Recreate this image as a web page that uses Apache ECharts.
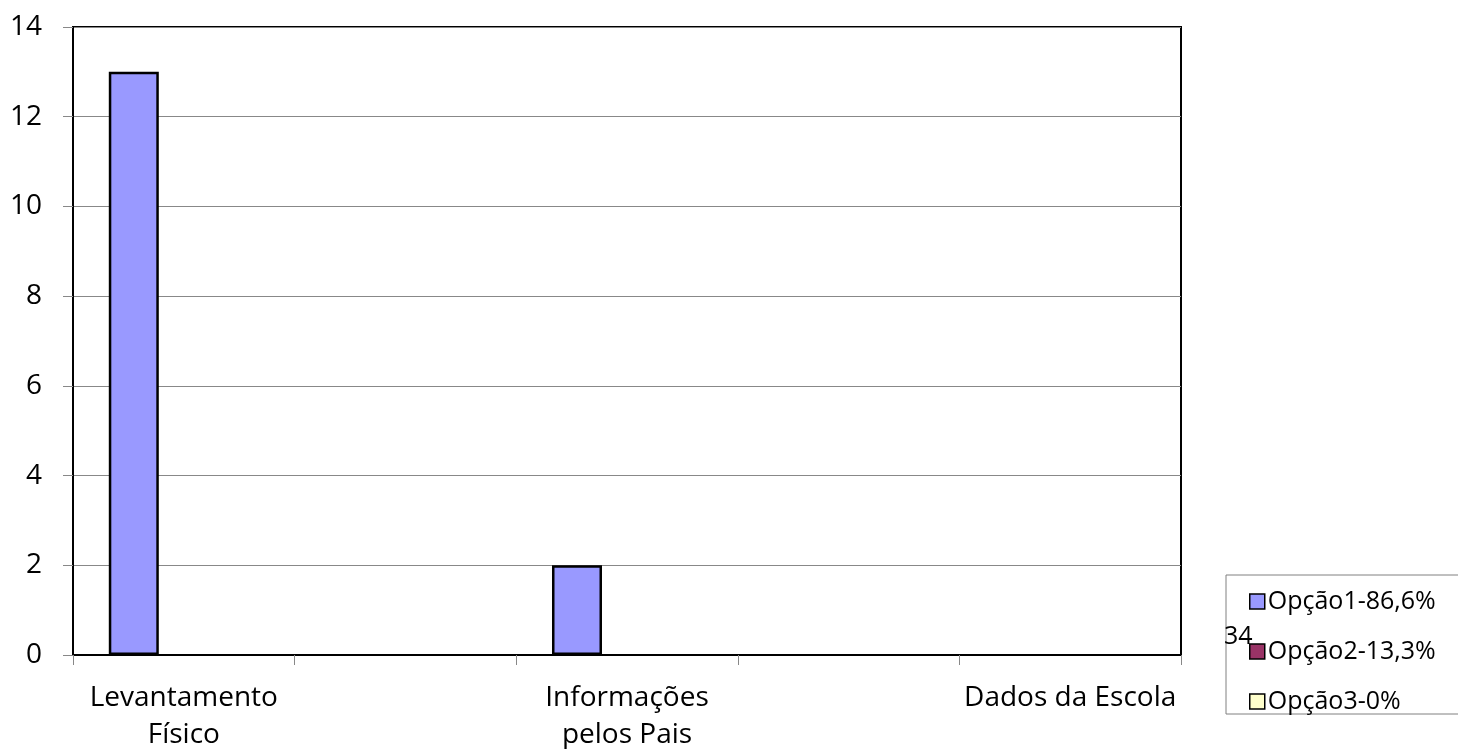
<!DOCTYPE html>
<html><head><meta charset="utf-8">
<script src="https://cdn.jsdelivr.net/npm/echarts@6/dist/echarts.min.js"></script>
<style>html,body{margin:0;padding:0;background:#fff}#c{width:1458px;height:749px}</style>
</head><body><div id="c"></div>
<script>
const categories = ["Levantamento\nFísico", "", "Informações\npelos Pais", "", "Dados da Escola"];
const seriesNames = ["Opção1-86,6%", "Opção2-13,3%", "Opção3-0%"];
const opcao1 = [13, '-', 2, '-', 0];
const opcao2 = [0, '-', 0, '-', 0];
const opcao3 = [0, '-', 0, '-', 0];
const yTicks = {min: 0, max: 14, interval: 2};
const strayText = "34";

const colors = ['#9999FF', '#993366', '#FFFFCC'];
const FONT = '"Open Sans", "Noto Sans", sans-serif';
const chart = echarts.init(document.getElementById('c'));
const dataSets = [opcao1, opcao2, opcao3];
const toItems = arr => arr.map(v => v === 0 ? {value: 0, itemStyle: {borderWidth: 0}} : v);
chart.setOption({
  animation: false,
  grid: {left: 73, right: 277, top: 27, bottom: 94, show: true, borderColor: '#000', borderWidth: 2,
         containLabel: false, outerBoundsMode: 'none'},
  xAxis: {
    type: 'category', data: categories,
    axisLine: {show: true, lineStyle: {color: '#000', width: 2}},
    axisTick: {show: true, alignWithLabel: false, length: 10, lineStyle: {color: '#888'}},
    axisLabel: {interval: 0, color: '#000', fontSize: 28, fontFamily: FONT, margin: 25, lineHeight: 37}
  },
  yAxis: {
    type: 'value', min: yTicks.min, max: yTicks.max, interval: yTicks.interval,
    axisLine: {show: true, lineStyle: {color: '#000', width: 2}},
    axisTick: {show: true, length: 10, lineStyle: {color: '#888'}},
    axisLabel: {color: '#000', fontSize: 28, fontFamily: FONT, margin: 31},
    splitLine: {show: true, lineStyle: {color: '#888', width: 1}}
  },
  legend: {
    orient: 'vertical', left: 1226, top: 575,
    padding: [14, 40, 0, 23], itemGap: 25,
    backgroundColor: '#fff', borderColor: '#808080', borderWidth: 1, borderRadius: 0,
    itemWidth: 15, itemHeight: 15, icon: 'rect',
    textStyle: {color: '#000', fontSize: 25, fontFamily: FONT, padding: [0, 0, 0, -2]},
    itemStyle: {borderColor: '#000', borderWidth: 1.5},
    data: seriesNames
  },
  graphic: [{type: 'text', left: 1224, top: 624, z: 100,
    style: {text: strayText, fill: '#000', fontSize: 25, fontFamily: FONT}}],
  series: seriesNames.map((n, i) => ({
    name: n, type: 'bar', data: toItems(dataSets[i]), barWidth: 50, barGap: '0%',
    itemStyle: {color: colors[i], borderColor: '#000', borderWidth: 2.5}
  }))
});
</script></body></html>
